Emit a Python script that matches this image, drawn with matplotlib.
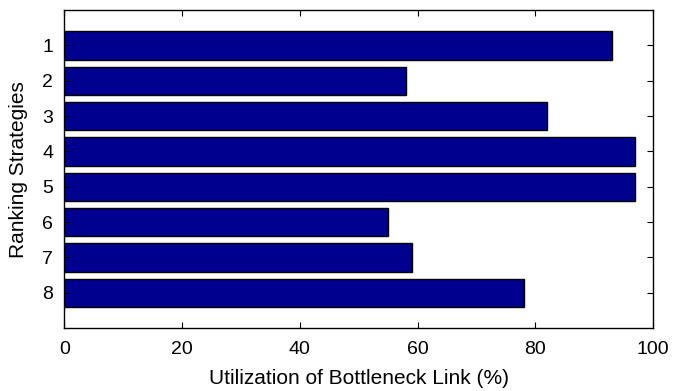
import matplotlib
matplotlib.use("Agg")
import matplotlib.pyplot as plt

strategies = [1, 2, 3, 4, 5, 6, 7, 8]
utilization = [93, 58, 82, 97, 97, 55, 59, 78]
xticks = [0, 20, 40, 60, 80, 100]

plt.rcParams['font.family'] = ['Liberation Sans', 'DejaVu Sans']

fig = plt.figure(figsize=(6.73, 3.91), dpi=100)
ax = fig.add_axes([0.0958, 0.161, 0.8745, 0.813])
ax.barh(strategies, utilization, height=0.8, color='#00008F', edgecolor='black', linewidth=1.0)
ax.set_xlim(0, 100)
ax.set_ylim(9, 0)
ax.set_yticks(strategies)
ax.set_xticks(xticks)
ax.tick_params(direction='in', length=4, width=0.8, labelsize=14, top=True, right=True)
ax.tick_params(axis='x', pad=9)
ax.tick_params(axis='y', pad=8)
for s in ax.spines.values():
    s.set_linewidth(1.0)
ax.set_xlabel('Utilization of Bottleneck Link (%)', fontsize=15, labelpad=8)
ax.set_ylabel('Ranking Strategies', fontsize=15, labelpad=10)
fig.savefig('out.png', dpi=100)
